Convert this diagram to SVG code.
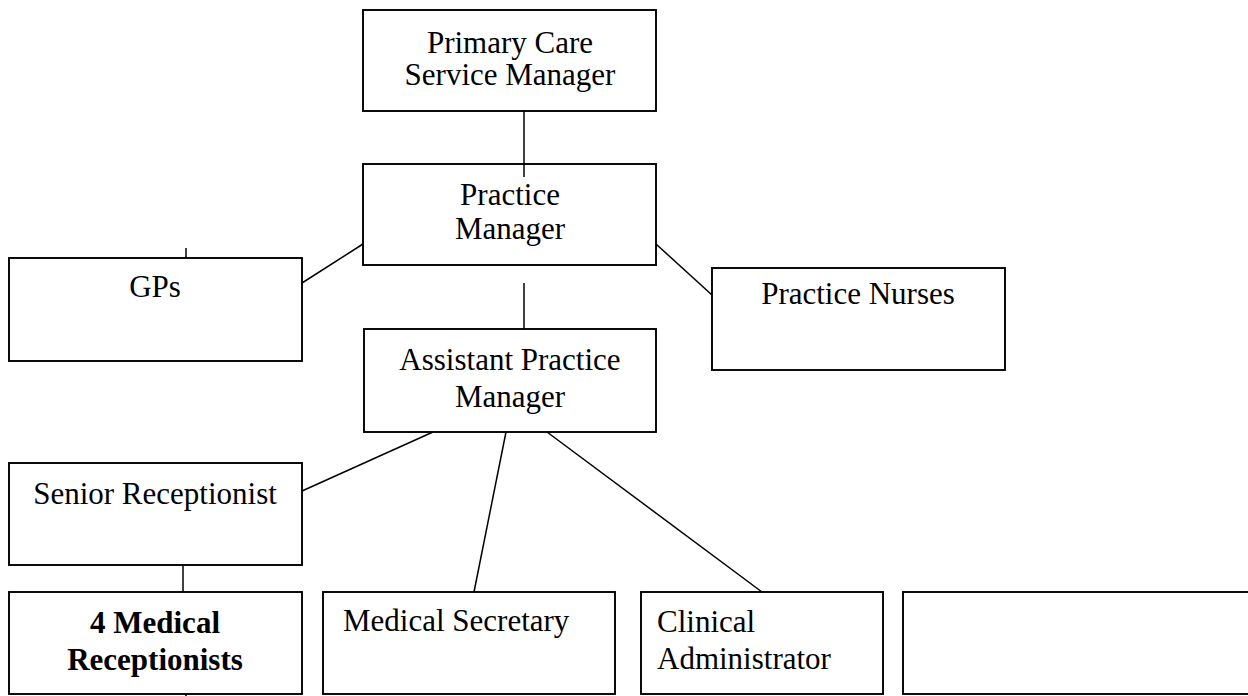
<svg xmlns="http://www.w3.org/2000/svg" width="1248" height="696" viewBox="0 0 1248 696">
  <style>
    .box { fill: #ffffff; stroke: #000000; stroke-width: 1.9; }
    .lbl { font-family: "Liberation Serif", "Times New Roman", serif; font-size: 31px; fill: #000000; }
    .mid { text-anchor: middle; }
    .bold { font-weight: bold; }
    .conn line { stroke: #000000; stroke-width: 1.5; fill: none; }
  </style>
  <rect x="0" y="0" width="1248" height="696" fill="#ffffff"/>

  <g id="primary-care-service-manager">
    <rect class="box" x="363" y="10" width="293" height="101"/>
    <text class="lbl mid" x="510" y="53">Primary Care</text>
    <text class="lbl mid" x="510" y="85">Service Manager</text>
  </g>

  <g id="practice-manager">
    <rect class="box" x="363" y="164" width="293" height="101"/>
    <text class="lbl mid" x="510" y="205">Practice</text>
    <text class="lbl mid" x="510" y="239">Manager</text>
  </g>

  <g id="gps">
    <rect class="box" x="9" y="258" width="293" height="103"/>
    <text class="lbl mid" x="155" y="297">GPs</text>
  </g>

  <g id="practice-nurses">
    <rect class="box" x="712" y="268" width="293" height="102"/>
    <text class="lbl mid" x="858" y="304">Practice Nurses</text>
  </g>

  <g id="assistant-practice-manager">
    <rect class="box" x="364" y="329" width="292" height="103"/>
    <text class="lbl mid" x="510" y="370">Assistant Practice</text>
    <text class="lbl mid" x="510" y="407">Manager</text>
  </g>

  <g id="senior-receptionist">
    <rect class="box" x="9" y="463" width="293" height="102"/>
    <text class="lbl mid" x="155" y="504">Senior Receptionist</text>
  </g>

  <g id="medical-receptionists">
    <rect class="box" x="9" y="592" width="293" height="102"/>
    <text class="lbl mid bold" x="155" y="633">4 Medical</text>
    <text class="lbl mid bold" x="155" y="670">Receptionists</text>
  </g>

  <g id="medical-secretary">
    <rect class="box" x="323" y="592" width="292" height="102"/>
    <text class="lbl" x="343" y="631">Medical Secretary</text>
  </g>

  <g id="clinical-administrator">
    <rect class="box" x="641" y="592" width="242" height="102"/>
    <text class="lbl" x="657" y="632">Clinical</text>
    <text class="lbl" x="657" y="669">Administrator</text>
  </g>

  <g id="blank-post">
    <rect class="box" x="903" y="592" width="360" height="102"/>
  </g>

  <!-- connectors, drawn last so the top link runs on into the Practice Manager box -->
  <g id="connectors" class="conn">
    <line x1="524" y1="111" x2="524" y2="177"/>
    <line x1="186" y1="248" x2="186" y2="258"/>
    <line x1="302" y1="283" x2="363" y2="244"/>
    <line x1="656" y1="244" x2="712" y2="295"/>
    <line x1="524" y1="283" x2="524" y2="329"/>
    <line x1="433" y1="432" x2="302" y2="491"/>
    <line x1="506" y1="432" x2="474" y2="592"/>
    <line x1="547" y1="432" x2="762" y2="592"/>
    <line x1="183" y1="565" x2="183" y2="592"/>
    <line x1="186" y1="694" x2="186" y2="696"/>
  </g>
</svg>
